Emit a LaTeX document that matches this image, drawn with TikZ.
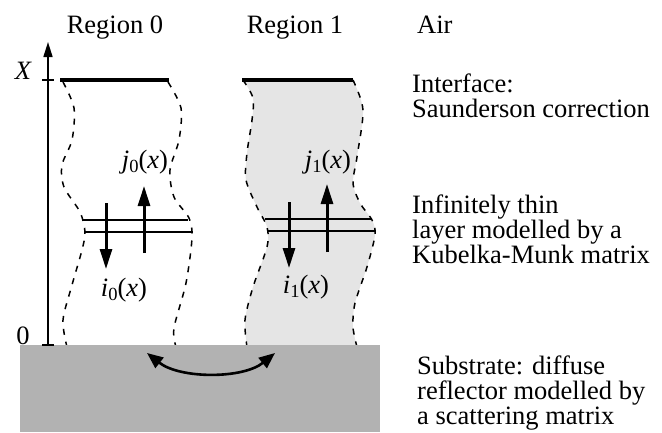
\documentclass[tikz,border=0pt]{standalone}
\usepackage{fontspec}
\setmainfont{Liberation Serif}
\usetikzlibrary{arrows.meta}
\definecolor{shadelt}{gray}{0.9}
\definecolor{shadesub}{gray}{0.7}
\newcommand{\lbl}[2]{\textit{#1}\raisebox{-0.35ex}{\fontsize{18.5}{18}\selectfont #2}(\textit{x})}
\begin{document}
\begin{tikzpicture}[x=1pt,y=-1pt,
  txt/.style={inner sep=0pt,anchor=base west,font=\fontsize{26.5}{25}\selectfont},
  ctxt/.style={inner sep=0pt,anchor=base,font=\fontsize{26.5}{25}\selectfont},
  bound/.style={dash pattern=on 6pt off 7pt,line width=1.5pt},
  topline/.style={line width=3.5pt},
  layer/.style={line width=1.5pt},
  flux/.style={line width=3pt,-{Triangle[width=12pt,length=20pt]}},
  axis/.style={line width=1.6pt,-{Triangle[width=9pt,length=15pt]}}]
\useasboundingbox (0,0) rectangle (662,432);
% region 1 shading
\fill[shadelt] plot[smooth] coordinates {(243,80) (253,98) (252,120) (247,153) (246,180) (257,207) (267,227) (267,247) (253,287) (245,320) (247,347)}
  -- plot[smooth] coordinates {(357,347) (353,327) (355,303) (367,267) (375,235) (372,220) (360,203) (353,183) (357,157) (363,110) (353,80)} -- cycle;
% dashed boundaries
\draw[bound] plot[smooth] coordinates {(63,82) (74,108) (72,140) (62,165) (64,187) (80,212) (85,232) (82,250) (72,285) (63,320) (67,347)};
\draw[bound] plot[smooth] coordinates {(168,82) (181,108) (179,140) (170,170) (174,197) (189,218) (192,238) (186,283) (174,328) (176,347)};
\draw[bound] plot[smooth] coordinates {(243,80) (253,98) (252,120) (247,153) (246,180) (257,207) (267,227) (267,247) (253,287) (245,320) (247,347)};
\draw[bound] plot[smooth] coordinates {(353,80) (363,110) (357,157) (353,183) (360,203) (372,220) (375,235) (367,267) (355,303) (353,327) (357,347)};
% substrate
\node[fill=shadesub,inner sep=0pt,minimum width=360pt,minimum height=87pt,anchor=north west] (sub) at (20,345) {};
% axis
\coordinate (axb) at (48,345);
\coordinate (axt) at (48,42);
\draw[axis] (axb) -- (axt);
\coordinate (tx1) at (42,80); \coordinate (tx2) at (54,80);
\coordinate (t01) at (42,345); \coordinate (t02) at (54,345);
\draw[line width=1.6pt] (tx1) -- (tx2);
\draw[line width=1.6pt] (t01) -- (t02);
\node[inner sep=0pt,font=\fontsize{26.5}{25}\selectfont\itshape] (lx) at (23,71) {X};
\node[inner sep=0pt,font=\fontsize{26.5}{25}\selectfont] (l0) at (23,336) {0};
% interfaces
\coordinate (a0) at (60,80); \coordinate (b0) at (169,80);
\coordinate (a1) at (242,80); \coordinate (b1) at (353,80);
\draw[topline] (a0) -- (b0);
\draw[topline] (a1) -- (b1);
% thin layers
\coordinate (l0a) at (82,220); \coordinate (l0b) at (188,220);
\coordinate (l0c) at (85,232); \coordinate (l0d) at (192,232);
\coordinate (l1a) at (265,219); \coordinate (l1b) at (372,219);
\coordinate (l1c) at (268,231); \coordinate (l1d) at (375,231);
\draw[layer] (l0a) -- (l0b); \draw[layer] (l0c) -- (l0d);
\draw[layer] (l1a) -- (l1b); \draw[layer] (l1c) -- (l1d);
% fluxes
\coordinate (d0s) at (106,203); \coordinate (d0e) at (106,269);
\coordinate (u0s) at (144,253); \coordinate (u0e) at (144,186);
\coordinate (d1s) at (289,202); \coordinate (d1e) at (289,268);
\coordinate (u1s) at (327,252); \coordinate (u1e) at (327,184);
\draw[flux] (d0s) -- (d0e);
\draw[flux] (u0s) -- (u0e);
\draw[flux] (d1s) -- (d1e);
\draw[flux] (u1s) -- (u1e);
\node[ctxt] (j0) at (145,168) {\lbl{j}{0}};
\node[ctxt] (i0) at (124,296) {\lbl{i}{0}};
\node[ctxt] (j1) at (328,168) {\lbl{j}{1}};
\node[ctxt] (i1) at (306,293) {\lbl{i}{1}};
% scattering arrow
\coordinate (sa) at (147,353); \coordinate (sb) at (275,353);
\draw[line width=2.6pt,{Triangle[width=13pt,length=16pt]}-{Triangle[width=13pt,length=16pt]}] (sa) .. controls (180,379) and (243,379) .. (sb);
% headings
\node[ctxt] (r0) at (115,33) {Region 0};
\node[ctxt] (r1) at (295,33) {Region 1};
\node[txt] (air) at (417,33) {Air};
\node[txt] (if1) at (412,92) {Interface:};
\node[txt] (if2) at (412,117) {Saunderson correction};
\node[txt] (km1) at (412,213) {Infinitely thin};
\node[txt] (km2) at (412,238) {layer modelled by a};
\node[txt] (km3) at (412,263) {Kubelka-Munk matrix};
\node[txt] (sb1) at (417,374) {Substrate: diffuse};
\node[txt] (sb2) at (417,399) {reflector modelled by};
\node[txt] (sb3) at (417,424) {a scattering matrix};
\end{tikzpicture}
\end{document}
